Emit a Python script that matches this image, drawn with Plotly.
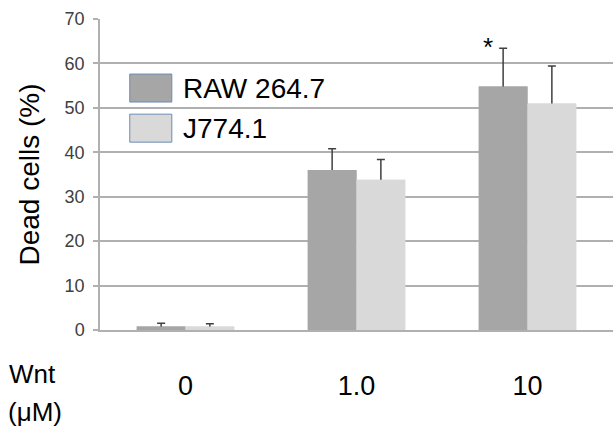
import plotly.graph_objects as go

categories = ["0", "1.0", "10"]
raw_values = [0.8, 36.0, 54.8]
raw_errors = [0.7, 4.8, 8.6]
j774_values = [0.8, 33.8, 51.0]
j774_errors = [0.6, 4.6, 8.4]
series_names = ["RAW 264.7", "J774.1"]
y_ticks = [0, 10, 20, 30, 40, 50, 60, 70]
significant = [False, False, True]  # RAW 264.7 marked with *

FONT = "Liberation Sans, Arial, sans-serif"
RAW_COLOR = "#a6a6a6"
J_COLOR = "#d9d9d9"
ERR_COLOR = "#404040"
GRID = "#b0b0b0"

series = [
    (series_names[0], raw_values, raw_errors, RAW_COLOR, "raw"),
    (series_names[1], j774_values, j774_errors, J_COLOR, "j774"),
]

fig = go.Figure()
# bars with error bars (lower part later hidden by the bars drawn on top)
for name, vals, errs, col, grp in series:
    fig.add_trace(go.Bar(
        x=categories, y=vals, name=name, offsetgroup=grp,
        marker=dict(color=col, line=dict(width=0)),
        error_y=dict(type="data", array=errs, arrayminus=[min(0.4, v) for v in vals],
                     symmetric=False, color=ERR_COLOR, thickness=1.5, width=4),
        showlegend=False,
    ))
# same bars drawn again on top so the error bars only show above each bar
for name, vals, errs, col, grp in series:
    fig.add_trace(go.Bar(
        x=categories, y=vals, name=name, offsetgroup=grp,
        marker=dict(color=col, line=dict(width=0)),
        showlegend=False, hoverinfo="skip",
    ))

fig.update_layout(
    width=613, height=426,
    margin=dict(l=100, r=0, t=19, b=96),
    paper_bgcolor="white", plot_bgcolor="white",
    barmode="group", bargap=0.43, bargroupgap=0,
    font=dict(family=FONT, color="#000000"),
    xaxis=dict(
        type="category", showgrid=False, showline=True, linecolor=GRID, linewidth=1.5,
        ticks="", tickfont=dict(size=27, color="#000000", family=FONT),
        ticklabelstandoff=31, range=[-0.5, 2.5],
    ),
    yaxis=dict(
        range=[0, 70], tickvals=y_ticks, showgrid=True, gridcolor=GRID, gridwidth=1.5,
        showline=True, linecolor=GRID, linewidth=1.5, ticks="outside", ticklen=5,
        tickcolor=GRID, tickwidth=1.5, zeroline=False, ticklabelstandoff=5,
        tickfont=dict(size=18, color="#404040", family=FONT),
        title=dict(text="Dead cells (%)", font=dict(size=28, color="#000000", family=FONT),
                   standoff=17),
    ),
)

# significance star above RAW 264.7
for i, sig in enumerate(significant):
    if sig:
        fig.add_annotation(x=i, y=raw_values[i] + raw_errors[i], text="*",
                           showarrow=False, xshift=-40, yshift=-16, yanchor="bottom",
                           font=dict(size=26, color="#000000", family=FONT))

# Wnt (µM) axis label
fig.add_annotation(x=0, y=-0.142, xref="paper", yref="paper", xanchor="left", yanchor="middle",
                   xshift=-93, text="Wnt", showarrow=False,
                   font=dict(size=26, color="#000000", family=FONT))
fig.add_annotation(x=0, y=-0.264, xref="paper", yref="paper", xanchor="left", yanchor="middle",
                   xshift=-94, text="(\u03bcM)", showarrow=False,
                   font=dict(size=26, color="#000000", family=FONT))

# custom legend with large swatches
legend_items = [(series_names[0], RAW_COLOR, 0.823, 0.733), (series_names[1], J_COLOR, 0.694, 0.604)]
for name, col, y1, y0 in legend_items:
    fig.add_shape(type="rect", xref="paper", yref="paper", x0=0.058, x1=0.140, y0=y0, y1=y1,
                  fillcolor=col, line=dict(color="#6a8db5", width=1))
    fig.add_annotation(x=0.158, y=(y0 + y1) / 2, xref="paper", yref="paper",
                       xanchor="left", yanchor="middle", text=name, showarrow=False,
                       font=dict(size=28, color="#000000", family=FONT))

fig.write_html(
    "out.html",
    config={"displayModeBar": False},
    post_script="document.body.style.margin='0';document.body.style.padding='0';",
)
